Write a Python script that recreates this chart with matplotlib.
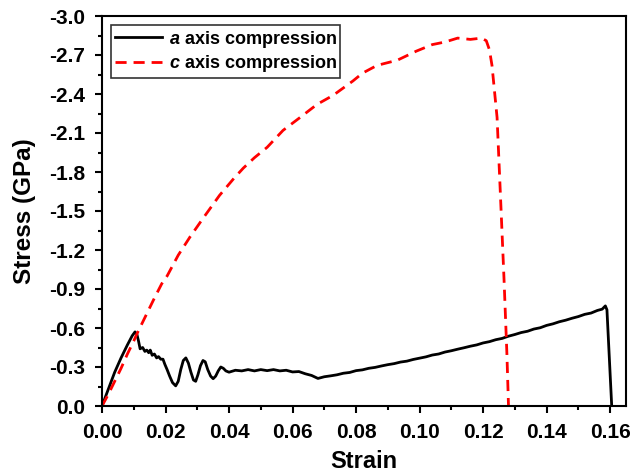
import matplotlib
matplotlib.use("Agg")
import matplotlib.pyplot as plt

# a axis compression
a_strain = [0, 0.002, 0.004, 0.006, 0.008, 0.0095, 0.0104, 0.0110, 0.0115, 0.0120,
            0.0128, 0.0135, 0.0141, 0.0147, 0.0152, 0.0158, 0.0165, 0.0172, 0.0178, 0.0185,
            0.0192, 0.0198, 0.0205, 0.0213, 0.0222, 0.0232, 0.0240, 0.0248, 0.0256, 0.0264,
            0.0272, 0.0280, 0.0288, 0.0295, 0.0302, 0.0310, 0.0318, 0.0325, 0.0333, 0.0342,
            0.0350, 0.0358, 0.0366, 0.0374, 0.0382, 0.0390,
            0.040, 0.042, 0.044, 0.046, 0.048, 0.050, 0.052, 0.054, 0.056, 0.058,
            0.060, 0.062, 0.064, 0.066, 0.068,
            0.070, 0.072, 0.074, 0.076, 0.078, 0.080, 0.082, 0.084, 0.086, 0.088,
            0.090, 0.092, 0.094, 0.096, 0.098, 0.100, 0.102, 0.104, 0.106, 0.108,
            0.110, 0.112, 0.114, 0.116, 0.118, 0.120, 0.122, 0.124, 0.126, 0.128,
            0.130, 0.132, 0.134, 0.136, 0.138, 0.140, 0.142, 0.144, 0.146, 0.148,
            0.150, 0.152, 0.154, 0.156, 0.1575, 0.1585, 0.1590, 0.1605]
a_stress = [0, -0.13, -0.26, -0.37, -0.47, -0.54, -0.57, -0.55, -0.50, -0.44,
            -0.45, -0.42, -0.43, -0.41, -0.43, -0.39, -0.40, -0.37, -0.38, -0.36,
            -0.36, -0.32, -0.28, -0.23, -0.18, -0.155, -0.19, -0.28, -0.35, -0.37,
            -0.33, -0.26, -0.20, -0.19, -0.24, -0.31, -0.35, -0.34, -0.28, -0.23,
            -0.21, -0.23, -0.27, -0.30, -0.29, -0.27,
            -0.26, -0.275, -0.27, -0.28, -0.27, -0.28, -0.272, -0.28, -0.27, -0.275,
            -0.262, -0.265, -0.248, -0.235, -0.212,
            -0.225, -0.232, -0.240, -0.252, -0.258, -0.272, -0.278, -0.290, -0.297, -0.308,
            -0.318, -0.326, -0.338, -0.345, -0.358, -0.368, -0.378, -0.392, -0.400, -0.415,
            -0.425, -0.437, -0.448, -0.460, -0.470, -0.485, -0.495, -0.510, -0.520, -0.537,
            -0.550, -0.565, -0.575, -0.592, -0.602, -0.620, -0.632, -0.648, -0.660, -0.675,
            -0.688, -0.705, -0.715, -0.735, -0.745, -0.770, -0.740, 0.0]

# c axis compression
c_strain = [0, 0.002, 0.004, 0.006, 0.008, 0.010, 0.0109, 0.0135, 0.0165, 0.0188,
            0.0205, 0.024, 0.0277, 0.032, 0.037, 0.0415, 0.0445, 0.048, 0.052, 0.057,
            0.0624, 0.0677, 0.0728, 0.079, 0.082, 0.0866, 0.093, 0.099, 0.104, 0.108,
            0.112, 0.116, 0.1195, 0.1210, 0.1220, 0.1228, 0.1244, 0.1255, 0.1266, 0.1275,
            0.1280]
c_stress = [0, -0.09, -0.19, -0.29, -0.40, -0.50, -0.55, -0.68, -0.83, -0.94,
            -1.00, -1.16, -1.30, -1.45, -1.62, -1.75, -1.83, -1.91, -1.99, -2.12,
            -2.22, -2.32, -2.39, -2.50, -2.56, -2.62, -2.66, -2.73, -2.78, -2.80,
            -2.83, -2.82, -2.83, -2.81, -2.74, -2.62, -2.22, -1.60, -0.97, -0.40,
            0.0]

x_ticks = [0.00, 0.02, 0.04, 0.06, 0.08, 0.10, 0.12, 0.14, 0.16]
x_tick_labels = ["0.00", "0.02", "0.04", "0.06", "0.08", "0.10", "0.12", "0.14", "0.16"]
y_ticks = [0.0, -0.3, -0.6, -0.9, -1.2, -1.5, -1.8, -2.1, -2.4, -2.7, -3.0]
y_tick_labels = ["0.0", "-0.3", "-0.6", "-0.9", "-1.2", "-1.5", "-1.8", "-2.1", "-2.4", "-2.7", "-3.0"]

plt.rcParams["font.family"] = ["Liberation Sans", "DejaVu Sans"]
plt.rcParams["font.weight"] = "bold"
plt.rcParams["mathtext.fontset"] = "custom"
plt.rcParams["mathtext.it"] = "Liberation Sans:italic:bold"
plt.rcParams["mathtext.rm"] = "Liberation Sans:bold"

fig = plt.figure(figsize=(6.32, 4.76), dpi=100)
ax = fig.add_axes([102 / 632, 70 / 476, 524 / 632, 390 / 476])

ax.plot(a_strain, a_stress, color="black", lw=2.0, label="$a$ axis compression")
ax.plot(c_strain, c_stress, color="red", lw=2.0, ls=(0, (4, 2.5)), label="$c$ axis compression")

ax.set_xlim(0, 0.165)
ax.set_ylim(0, -3.0)
ax.set_xticks(x_ticks)
ax.set_xticklabels(x_tick_labels)
ax.set_yticks(y_ticks)
ax.set_yticklabels(y_tick_labels)
ax.set_xticks([0.01 + 0.02 * i for i in range(8)], minor=True)
ax.set_yticks([-0.15 - 0.3 * i for i in range(10)], minor=True)
ax.tick_params(which="major", direction="out", length=4.8, width=1.5, labelsize=15, pad=7.5)
ax.tick_params(which="minor", direction="out", length=3, width=1.5)
for lab in ax.get_xticklabels() + ax.get_yticklabels():
    lab.set_fontweight("bold")
for sp in ax.spines.values():
    sp.set_linewidth(1.5)

ax.set_xlabel("Strain", fontsize=17, fontweight="bold", labelpad=6)
ax.set_ylabel("Stress (GPa)", fontsize=17.5, fontweight="bold", labelpad=9)

leg = ax.legend(loc="upper left", frameon=True, fancybox=False,
                edgecolor="black", handlelength=2.6, borderpad=0.2,
                labelspacing=0.2, handletextpad=0.4, borderaxespad=0.5,
                prop={"weight": "bold", "size": 13})
leg.get_frame().set_linewidth(1.2)

fig.savefig("out.png", dpi=100)
